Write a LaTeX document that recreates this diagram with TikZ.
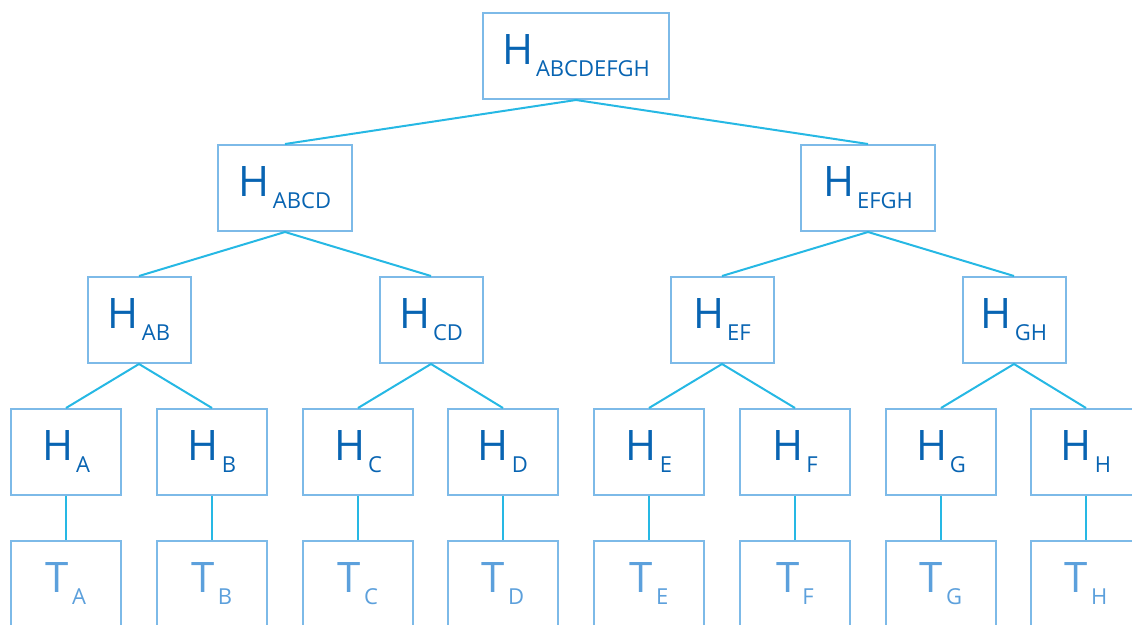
\documentclass[tikz,border=0pt]{standalone}
\usepackage{fontspec}
\setmainfont{Open Sans}
\usepackage{xcolor}
\definecolor{boxline}{RGB}{125,186,232}
\definecolor{edgeline}{RGB}{38,184,228}
\definecolor{hashfg}{RGB}{8,100,178}
\definecolor{leaffg}{RGB}{92,160,220}

% big letter with a lowered label beside it
\newcommand{\hashtext}[2]{#1\hspace{3pt}\raisebox{-12pt}{\fontsize{22}{22}\selectfont #2}}

\tikzset{
	hashbox/.style={draw=boxline, line width=2pt, fill=white, inner sep=0pt,
		minimum height=86pt, text=hashfg, font=\fontsize{42}{42}\selectfont},
	leafbox/.style={hashbox, text=leaffg},
	treeedge/.style={draw=edgeline, line width=2pt}
}

\begin{document}
\begin{tikzpicture}[x=1pt,y=1pt,yscale=-1]

\useasboundingbox (0,0) rectangle (1132,624);
\clip (0,0) rectangle (1132,624);

% root
\node [hashbox,minimum width=186pt] (hroot) at (576,56) {\hashtext{H}{ABCDEFGH}};

% second level
\node [hashbox,minimum width=134pt] (habcd) at (285,188) {\hashtext{H}{ABCD}};
\node [hashbox,minimum width=134pt] (hefgh) at (868,188) {\hashtext{H}{EFGH}};

% third level
\node [hashbox,minimum width=103pt] (hab) at (139,320) {\hashtext{H}{AB}};
\node [hashbox,minimum width=103pt] (hcd) at (431,320) {\hashtext{H}{CD}};
\node [hashbox,minimum width=103pt] (hef) at (722,320) {\hashtext{H}{EF}};
\node [hashbox,minimum width=103pt] (hgh) at (1014,320) {\hashtext{H}{GH}};

% leaf hashes
\node [hashbox,minimum width=110pt] (ha) at (66,452) {\hashtext{H}{A}};
\node [hashbox,minimum width=110pt] (hb) at (212,452) {\hashtext{H}{B}};
\node [hashbox,minimum width=110pt] (hc) at (358,452) {\hashtext{H}{C}};
\node [hashbox,minimum width=110pt] (hd) at (503,452) {\hashtext{H}{D}};
\node [hashbox,minimum width=110pt] (he) at (649,452) {\hashtext{H}{E}};
\node [hashbox,minimum width=110pt] (hf) at (795,452) {\hashtext{H}{F}};
\node [hashbox,minimum width=110pt] (hg) at (941,452) {\hashtext{H}{G}};
\node [hashbox,minimum width=110pt] (hh) at (1086,452) {\hashtext{H}{H}};

% transactions
\node [leafbox,minimum width=110pt] (ta) at (66,584) {\hashtext{T}{A}};
\node [leafbox,minimum width=110pt] (tb) at (212,584) {\hashtext{T}{B}};
\node [leafbox,minimum width=110pt] (tc) at (358,584) {\hashtext{T}{C}};
\node [leafbox,minimum width=110pt] (td) at (503,584) {\hashtext{T}{D}};
\node [leafbox,minimum width=110pt] (te) at (649,584) {\hashtext{T}{E}};
\node [leafbox,minimum width=110pt] (tf) at (795,584) {\hashtext{T}{F}};
\node [leafbox,minimum width=110pt] (tg) at (941,584) {\hashtext{T}{G}};
\node [leafbox,minimum width=110pt] (th) at (1086,584) {\hashtext{T}{H}};

% edges
\draw [treeedge] (habcd.north) -- (hroot.south) -- (hefgh.north);
\draw [treeedge] (hab.north) -- (habcd.south) -- (hcd.north);
\draw [treeedge] (hef.north) -- (hefgh.south) -- (hgh.north);
\draw [treeedge] (ha.north) -- (hab.south) -- (hb.north);
\draw [treeedge] (hc.north) -- (hcd.south) -- (hd.north);
\draw [treeedge] (he.north) -- (hef.south) -- (hf.north);
\draw [treeedge] (hg.north) -- (hgh.south) -- (hh.north);
\draw [treeedge] (ha) -- (ta);
\draw [treeedge] (hb) -- (tb);
\draw [treeedge] (hc) -- (tc);
\draw [treeedge] (hd) -- (td);
\draw [treeedge] (he) -- (te);
\draw [treeedge] (hf) -- (tf);
\draw [treeedge] (hg) -- (tg);
\draw [treeedge] (hh) -- (th);

\end{tikzpicture}
\end{document}
